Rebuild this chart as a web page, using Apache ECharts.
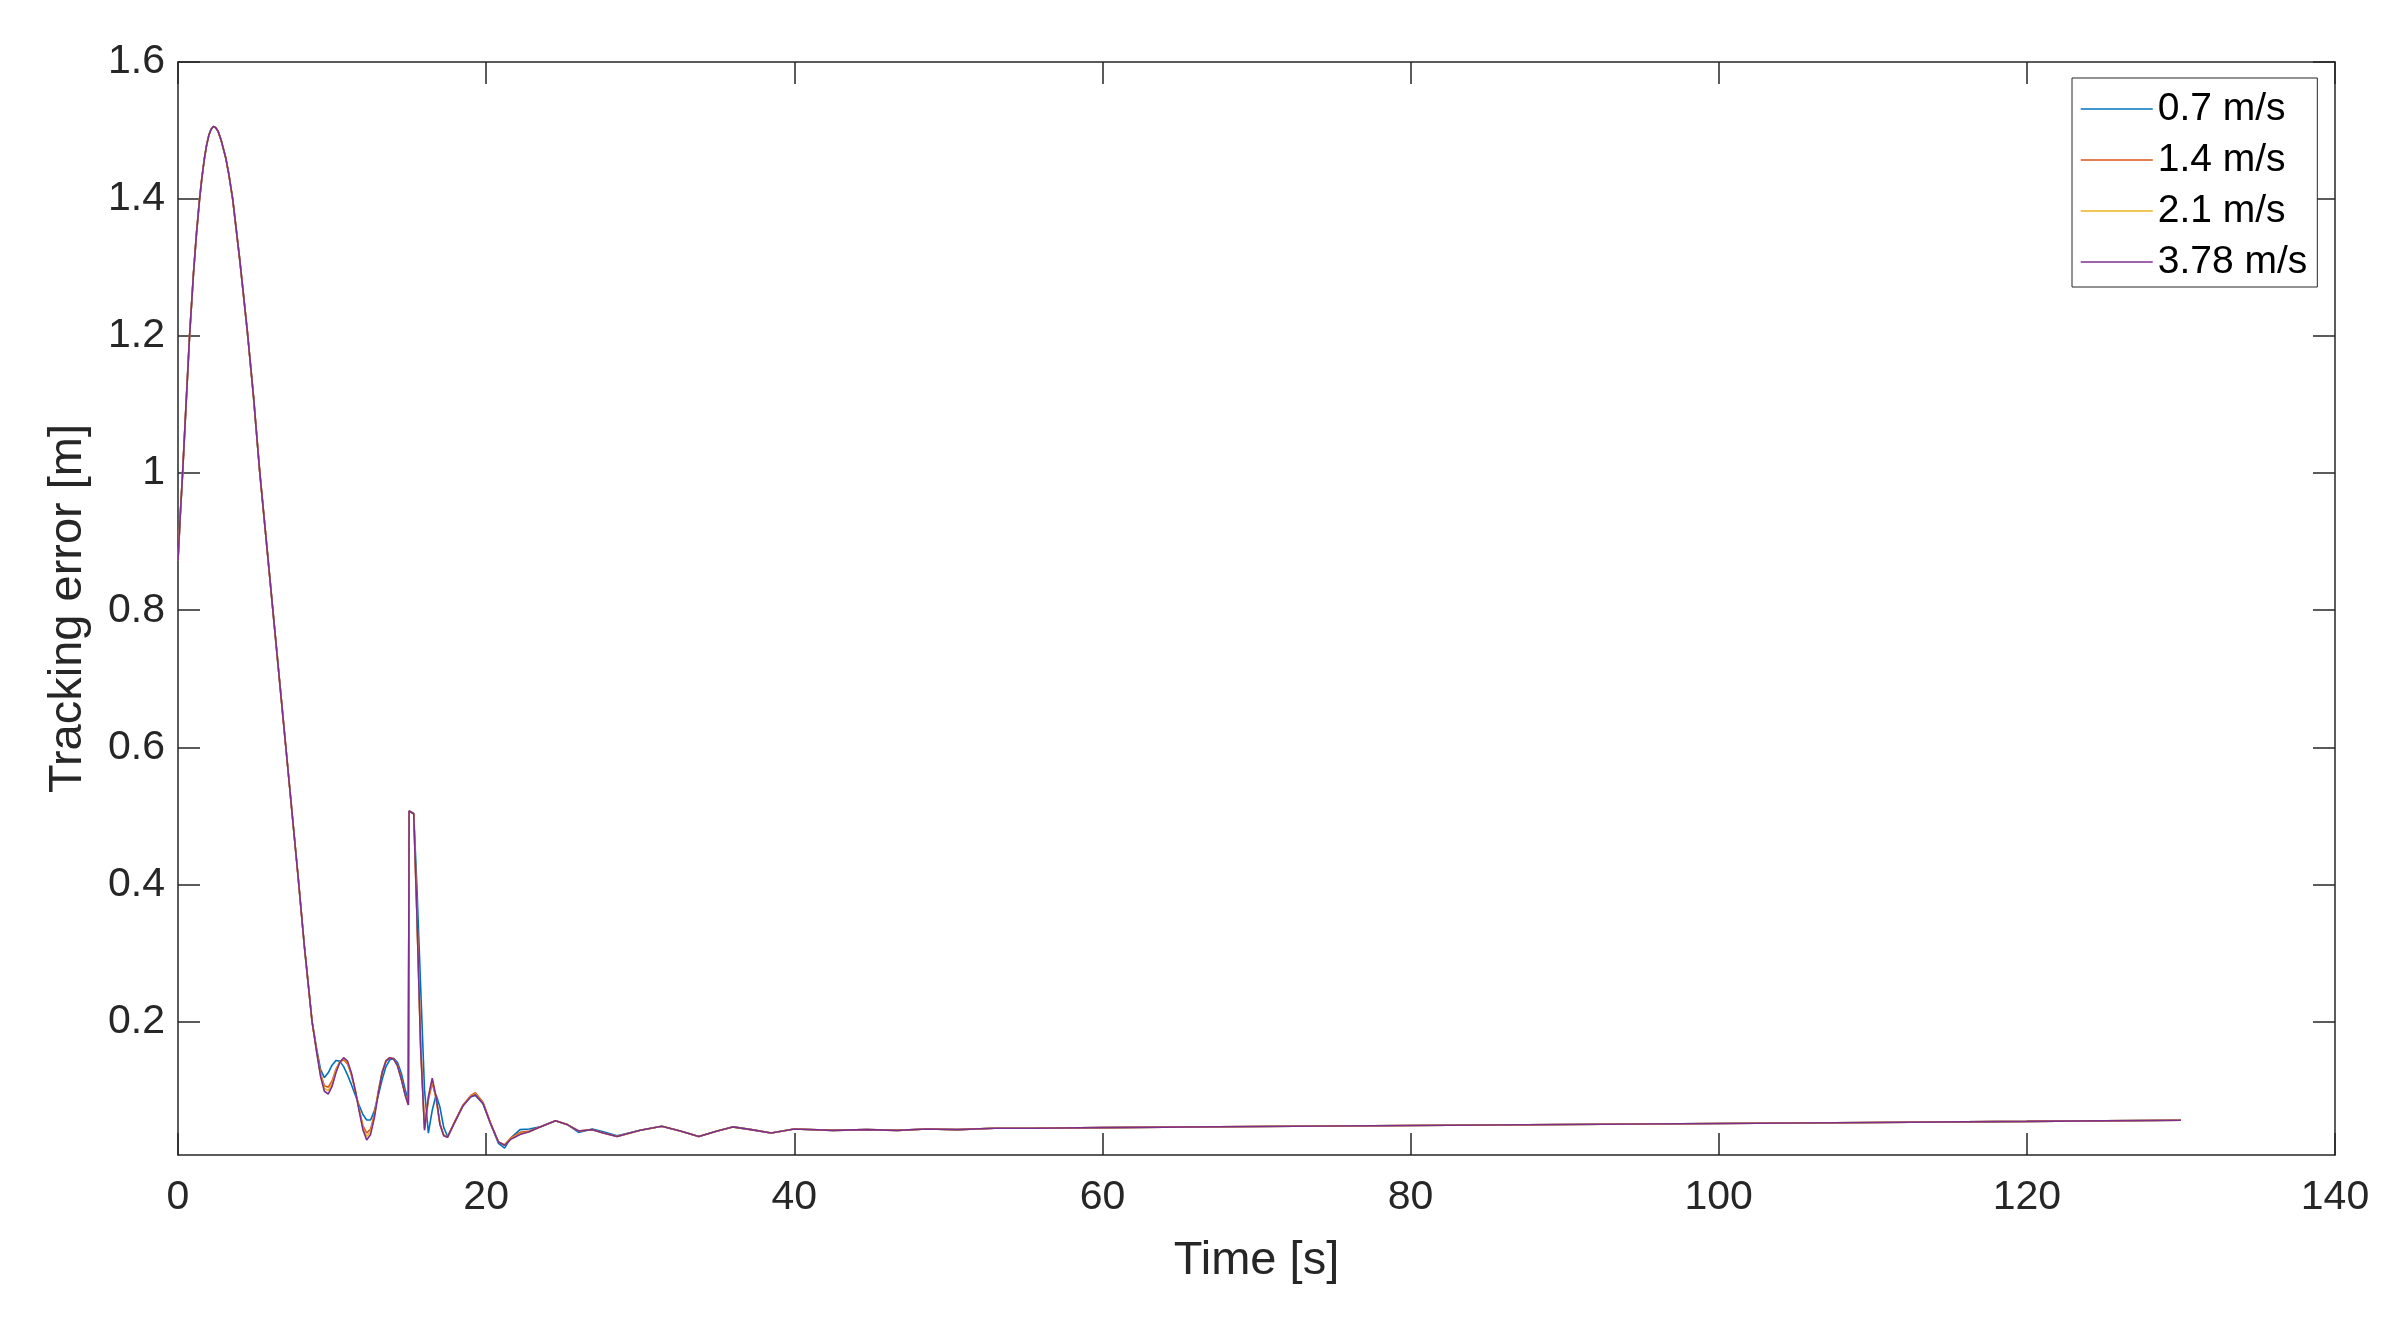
<!DOCTYPE html>
<html>
<head>
<meta charset="utf-8">
<script src="https://cdn.jsdelivr.net/npm/echarts@6/dist/echarts.min.js"></script>
<style>
html,body{margin:0;padding:0;background:#fff;}
#chart{width:2395px;height:1332px;}
</style>
</head>
<body>
<div id="chart"></div>
<script>
// ---- data ----
const seriesNames = ['0.7 m/s', '1.4 m/s', '2.1 m/s', '3.78 m/s'];
const xTicks = [0, 20, 40, 60, 80, 100, 120, 140];
const yTicks = [0.2, 0.4, 0.6, 0.8, 1, 1.2, 1.4, 1.6];

const timeS = [
  0, 0.15, 0.3, 0.5, 0.75, 1.0, 1.2, 1.4, 1.55, 1.7, 1.85, 2.0, 2.15, 2.3, 2.45, 2.6, 2.8, 3.1, 3.3, 3.55,
  4.0, 4.5, 4.9, 5.3, 5.85, 6.2, 7.0, 7.8, 8.2, 8.7,
  9.0, 9.25, 9.5, 9.75, 10.0, 10.25, 10.5, 10.75, 11.0, 11.25, 11.5, 11.75, 12.0, 12.25, 12.5, 12.75,
  13.0, 13.25, 13.5, 13.75, 14.0, 14.25, 14.5, 14.75, 14.95, 15.0, 15.3, 15.5, 15.75, 16.0, 16.25, 16.5,
  16.75, 17.0, 17.25, 17.5, 17.9, 18.5, 19.0, 19.3, 19.8, 20.3, 20.8, 21.2, 21.6, 22.2, 22.8, 23.5, 24.5,
  25.3, 26.0, 26.9, 27.6, 28.5, 30.0, 31.4, 32.6, 33.8, 35.0, 36.0, 37.2, 38.5, 40.0, 42.5, 44.7, 46.7,
  48.6, 50.6, 53.0, 55.5, 60, 70, 80, 90, 100, 110, 120, 130
];

const err07 = [
  0.873, 0.94, 1.0, 1.09, 1.2, 1.29, 1.35, 1.4, 1.431, 1.457, 1.478, 1.493, 1.502, 1.506, 1.504, 1.499, 1.486, 1.46, 1.436, 1.4,
  1.313, 1.207, 1.112, 1.003, 0.873, 0.79, 0.6, 0.41, 0.31, 0.2,
  0.16, 0.13, 0.118, 0.125, 0.136, 0.143, 0.142, 0.134, 0.122, 0.108, 0.093, 0.078, 0.064, 0.056, 0.056, 0.07,
  0.092, 0.115, 0.134, 0.144, 0.146, 0.14, 0.124, 0.1, 0.085, 0.507, 0.503, 0.4, 0.25, 0.1, 0.037, 0.07,
  0.093, 0.075, 0.045, 0.032, 0.05, 0.077, 0.09, 0.092, 0.08, 0.05, 0.022, 0.015, 0.03, 0.042, 0.043, 0.046, 0.055,
  0.049, 0.038, 0.043, 0.039, 0.033, 0.041, 0.047, 0.04, 0.032, 0.04, 0.046, 0.042, 0.037, 0.043, 0.041, 0.042, 0.041,
  0.043, 0.042, 0.044, 0.044, 0.045, 0.0465, 0.048, 0.0495, 0.051, 0.0525, 0.054, 0.0557
];

const err14 = [
  0.873, 0.94, 1.0, 1.09, 1.2, 1.29, 1.35, 1.4, 1.431, 1.457, 1.478, 1.493, 1.502, 1.506, 1.504, 1.499, 1.486, 1.46, 1.436, 1.4,
  1.313, 1.207, 1.112, 1.003, 0.873, 0.79, 0.6, 0.41, 0.31, 0.2,
  0.157, 0.124, 0.106, 0.104, 0.113, 0.13, 0.141, 0.144, 0.138, 0.122, 0.1, 0.073, 0.048, 0.037, 0.043, 0.065,
  0.098, 0.126, 0.143, 0.147, 0.145, 0.136, 0.116, 0.093, 0.079, 0.507, 0.503, 0.36, 0.165, 0.045, 0.085, 0.11,
  0.088, 0.05, 0.034, 0.031, 0.051, 0.078, 0.092, 0.096, 0.082, 0.051, 0.024, 0.02, 0.03, 0.038, 0.04, 0.046, 0.055,
  0.049, 0.04, 0.042, 0.037, 0.032, 0.041, 0.047, 0.04, 0.032, 0.04, 0.046, 0.042, 0.037, 0.043, 0.041, 0.042, 0.041,
  0.043, 0.042, 0.044, 0.044, 0.045, 0.0465, 0.048, 0.0495, 0.051, 0.0525, 0.054, 0.0557
];

const err21 = [
  0.873, 0.94, 1.0, 1.09, 1.2, 1.29, 1.35, 1.4, 1.431, 1.457, 1.478, 1.493, 1.502, 1.506, 1.504, 1.499, 1.486, 1.46, 1.436, 1.4,
  1.313, 1.207, 1.112, 1.003, 0.873, 0.79, 0.6, 0.41, 0.31, 0.2,
  0.156, 0.122, 0.102, 0.099, 0.109, 0.128, 0.141, 0.146, 0.14, 0.124, 0.1, 0.072, 0.045, 0.032, 0.039, 0.062,
  0.097, 0.126, 0.142, 0.147, 0.145, 0.135, 0.115, 0.092, 0.078, 0.507, 0.503, 0.36, 0.162, 0.043, 0.088, 0.114,
  0.089, 0.05, 0.033, 0.031, 0.05, 0.077, 0.091, 0.094, 0.081, 0.05, 0.024, 0.019, 0.029, 0.036, 0.039, 0.046, 0.055,
  0.049, 0.04, 0.042, 0.037, 0.032, 0.041, 0.047, 0.04, 0.032, 0.04, 0.046, 0.042, 0.037, 0.043, 0.041, 0.042, 0.041,
  0.043, 0.042, 0.044, 0.044, 0.045, 0.0465, 0.048, 0.0495, 0.051, 0.0525, 0.054, 0.0557
];

const err378 = [
  0.873, 0.94, 1.0, 1.09, 1.2, 1.29, 1.35, 1.4, 1.431, 1.457, 1.478, 1.493, 1.502, 1.506, 1.504, 1.499, 1.486, 1.46, 1.436, 1.4,
  1.313, 1.207, 1.112, 1.003, 0.873, 0.79, 0.6, 0.41, 0.31, 0.2,
  0.155, 0.12, 0.098, 0.094, 0.105, 0.125, 0.14, 0.147, 0.142, 0.125, 0.1, 0.07, 0.042, 0.027, 0.035, 0.06,
  0.095, 0.125, 0.142, 0.147, 0.145, 0.135, 0.115, 0.092, 0.078, 0.507, 0.503, 0.36, 0.16, 0.041, 0.09, 0.117,
  0.09, 0.05, 0.033, 0.031, 0.05, 0.077, 0.09, 0.093, 0.08, 0.05, 0.024, 0.019, 0.028, 0.035, 0.039, 0.046, 0.055,
  0.049, 0.04, 0.042, 0.037, 0.032, 0.041, 0.047, 0.04, 0.032, 0.04, 0.046, 0.042, 0.037, 0.043, 0.041, 0.042, 0.041,
  0.043, 0.042, 0.044, 0.044, 0.045, 0.0465, 0.048, 0.0495, 0.051, 0.0525, 0.054, 0.0557
];

const seriesValues = [err07, err14, err21, err378];
const seriesColors = ['#0072BD', '#D95319', '#EDB120', '#7E2F8E'];

// ---- chart ----
const FONT = '"Liberation Sans", Arial, Helvetica, sans-serif';
const AX = '#262626';
const chart = echarts.init(document.getElementById('chart'), null, {renderer: 'canvas'});

function pairs(vals) { return timeS.map((t, i) => [t, vals[i]]); }

const xBase = {
  type: 'value', min: 0, max: 140, interval: 20,
  axisLine: {show: true, onZero: false, lineStyle: {color: AX, width: 1.5}},
  axisTick: {show: true, inside: true, length: 22, lineStyle: {color: AX, width: 1.5}},
  splitLine: {show: false}
};
const yBase = {
  type: 'value', min: 0.005, max: 1.6,
  axisLine: {show: true, onZero: false, lineStyle: {color: AX, width: 1.5}},
  axisTick: {show: true, inside: true, length: 22, customValues: yTicks, lineStyle: {color: AX, width: 1.5}},
  splitLine: {show: false}
};

chart.setOption({
  animation: false,
  backgroundColor: '#ffffff',
  grid: {left: 178, right: 60, top: 62, bottom: 177, containLabel: false, outerBoundsMode: 'none'},
  legend: {
    orient: 'vertical', left: 2072, top: 78,
    data: seriesNames,
    itemWidth: 72, itemHeight: 40, itemGap: 11,
    padding: [11, 10, 5, 8],
    borderColor: AX, borderWidth: 1, backgroundColor: '#ffffff',
    itemStyle: {opacity: 0, borderWidth: 0},
    lineStyle: {width: 1.5},
    textStyle: {fontFamily: FONT, fontSize: 39, color: '#000000', lineHeight: 40}
  },
  xAxis: [
    Object.assign({}, xBase, {
      position: 'bottom',
      axisLabel: {show: true, margin: 22, fontFamily: FONT, fontSize: 41, color: AX,
                  customValues: xTicks},
      name: 'Time [s]', nameLocation: 'middle', nameGap: 83,
      nameTextStyle: {fontFamily: FONT, fontSize: 47, color: AX}
    }),
    Object.assign({}, xBase, {position: 'top', axisLabel: {show: false}})
  ],
  yAxis: [
    Object.assign({}, yBase, {
      position: 'left',
      axisLabel: {show: true, margin: 13, fontFamily: FONT, fontSize: 41, color: AX,
                  customValues: yTicks},
      name: 'Tracking error [m]', nameLocation: 'middle', nameGap: 86, nameRotate: 90,
      nameTextStyle: {fontFamily: FONT, fontSize: 47, color: AX}
    }),
    Object.assign({}, yBase, {position: 'right', axisLabel: {show: false}})
  ],
  series: seriesNames.map((name, i) => ({
    name: name,
    type: 'line',
    xAxisIndex: 0, yAxisIndex: 0,
    data: pairs(seriesValues[i]),
    symbol: 'none',
    smooth: false,
    lineStyle: {color: seriesColors[i], width: 1.6},
    itemStyle: {color: seriesColors[i]},
    z: 2 + i
  }))
});
</script>
</body>
</html>
